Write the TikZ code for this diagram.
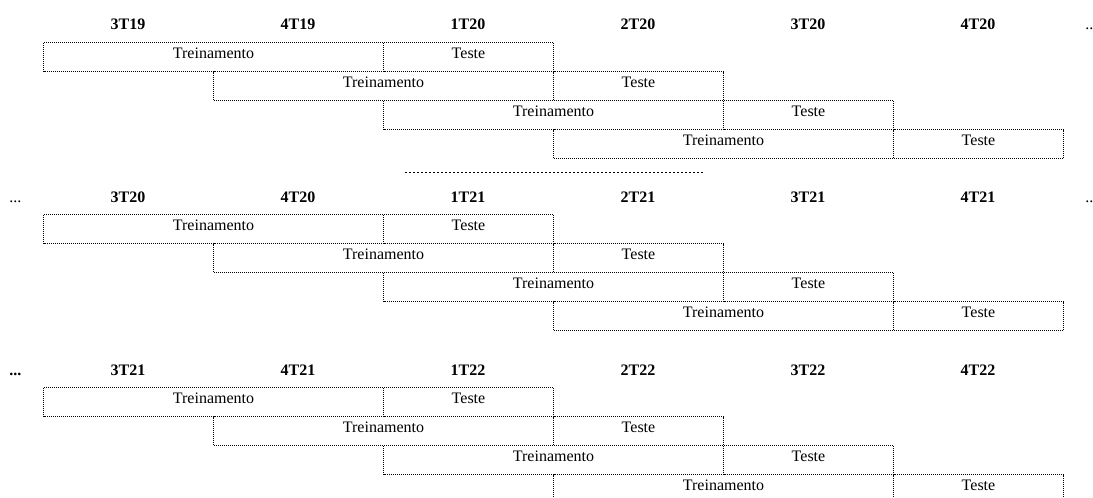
\documentclass[tikz,border=0pt]{standalone}
\usepackage{fontspec}
\setmainfont{Liberation Serif}
\usetikzlibrary{positioning}
\tikzset{qfont/.style={font=\fontsize{12}{14}\selectfont}}
\tikzset{hdr/.style={qfont, anchor=base, inner sep=0, font=\fontsize{12}{14}\selectfont\bfseries}}
\tikzset{gap/.style={qfont, anchor=base west, inner sep=0}}
\tikzset{qbox/.style={qfont, draw, line width=0.75pt, dash pattern=on 0.75pt off 0.75pt, dash phase=0.375pt, inner sep=0, outer sep=0, text height=12pt, text depth=9.75pt, align=center}}
\tikzset{trbox/.style={qbox, anchor=north west, minimum width=255pt}}
\tikzset{tsbox/.style={qbox, minimum width=127.5pt}}
\tikzset{shifted/.style={dash phase=1.125pt}}
\tikzset{sepline/.style={line width=0.9pt, dash pattern=on 1.125pt off 1.875pt}}

\begin{document}
\begin{tikzpicture}[x=0.75pt, y=-0.75pt]
			\useasboundingbox (0,0) rectangle (1093,497);
			% primeiro bloco
			\node[hdr] (h11) at (128,29.3) {3T19};
			\node[hdr] (h12) at (298,29.3) {4T19};
			\node[hdr] (h13) at (468,29.3) {1T20};
			\node[hdr] (h14) at (638,29.3) {2T20};
			\node[hdr] (h15) at (808,29.3) {3T20};
			\node[hdr] (h16) at (978,29.3) {4T20};
			\node[gap] (r1) at (1085,29.3) {..};
			%
			\node[trbox] (a1) at (43.5,42.5) {Treinamento};
			\node[tsbox, right=0pt of a1] (a1t) {Teste};
			\node[trbox, shifted] (a2) at (a1.south) {Treinamento};
			\node[tsbox, shifted, right=0pt of a2] (a2t) {Teste};
			\node[trbox] (a3) at (a2.south) {Treinamento};
			\node[tsbox, right=0pt of a3] (a3t) {Teste};
			\node[trbox, shifted] (a4) at (a3.south) {Treinamento};
			\node[tsbox, shifted, right=0pt of a4] (a4t) {Teste};
			%
			\coordinate (sepL) at (405,172.5);
			\coordinate (sepR) at (703,172.5);
			\draw[sepline] (sepL) -- (sepR);
			% segundo bloco
			\node[gap] (l2) at (9,202.7) {...};
			\node[hdr] (h21) at (128,202.7) {3T20};
			\node[hdr] (h22) at (298,202.7) {4T20};
			\node[hdr] (h23) at (468,202.7) {1T21};
			\node[hdr] (h24) at (638,202.7) {2T21};
			\node[hdr] (h25) at (808,202.7) {3T21};
			\node[hdr] (h26) at (978,202.7) {4T21};
			\node[gap] (r2) at (1085,202.7) {..};
			%
			\node[trbox] (b1) at (43.5,214.5) {Treinamento};
			\node[tsbox, right=0pt of b1] (b1t) {Teste};
			\node[trbox, shifted] (b2) at (b1.south) {Treinamento};
			\node[tsbox, shifted, right=0pt of b2] (b2t) {Teste};
			\node[trbox] (b3) at (b2.south) {Treinamento};
			\node[tsbox, right=0pt of b3] (b3t) {Teste};
			\node[trbox, shifted] (b4) at (b3.south) {Treinamento};
			\node[tsbox, shifted, right=0pt of b4] (b4t) {Teste};
			% terceiro bloco
			\node[gap, font=\fontsize{12}{14}\selectfont\bfseries] (l3) at (9,375) {...};
			\node[hdr] (h31) at (128,375) {3T21};
			\node[hdr] (h32) at (298,375) {4T21};
			\node[hdr] (h33) at (468,375) {1T22};
			\node[hdr] (h34) at (638,375) {2T22};
			\node[hdr] (h35) at (808,375) {3T22};
			\node[hdr] (h36) at (978,375) {4T22};
			%
			\node[trbox] (c1) at (43.5,387.5) {Treinamento};
			\node[tsbox, right=0pt of c1] (c1t) {Teste};
			\node[trbox, shifted] (c2) at (c1.south) {Treinamento};
			\node[tsbox, shifted, right=0pt of c2] (c2t) {Teste};
			\node[trbox] (c3) at (c2.south) {Treinamento};
			\node[tsbox, right=0pt of c3] (c3t) {Teste};
			\node[trbox, shifted] (c4) at (c3.south) {Treinamento};
			\node[tsbox, shifted, right=0pt of c4] (c4t) {Teste};
		\end{tikzpicture}
\end{document}
